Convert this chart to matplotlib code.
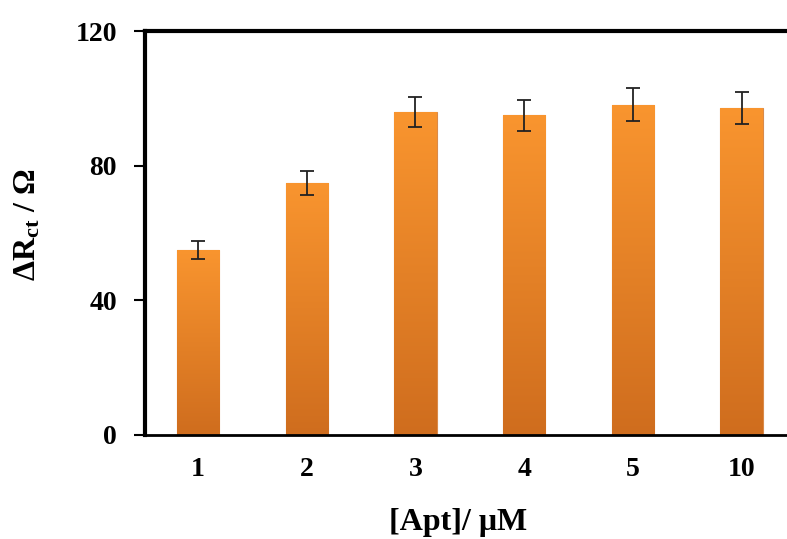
import matplotlib.pyplot as plt
import numpy as np
from matplotlib.colors import LinearSegmentedColormap

plt.rcParams['font.family'] = ['Liberation Serif', 'DejaVu Serif']
plt.rcParams['mathtext.fontset'] = 'custom'
plt.rcParams['mathtext.rm'] = 'Liberation Serif'
plt.rcParams['mathtext.bf'] = 'Liberation Serif:bold'
plt.rcParams['mathtext.it'] = 'Liberation Serif:italic'

# concentrations and measured response
labels = ['1', '2', '3', '4', '5', '10']
delta_rct = [55.1, 75.0, 96.0, 95.0, 98.2, 97.2]
errors = [2.7, 3.6, 4.5, 4.7, 4.8, 4.8]

fig = plt.figure(figsize=(7.87, 5.39), dpi=100)
ax = fig.add_axes([0.184, 0.193, 0.826, 0.749])

x = np.arange(len(labels))
bars = ax.bar(x, delta_rct, width=0.39, color='#EE8427', edgecolor='#D98A4A', linewidth=0.8, zorder=2)

# vertical gradient in each bar: lighter on top, darker at the bottom
grad = np.linspace(1, 0, 256).reshape(-1, 1)
cmap = LinearSegmentedColormap.from_list('org', ['#CF6D1E', '#F9952F'])
for b in bars:
    bx, by = b.get_x(), b.get_y()
    w, h = b.get_width(), b.get_height()
    im = ax.imshow(grad, cmap=cmap, aspect='auto', extent=[bx, bx + w, by, by + h],
                   zorder=2.5, interpolation='bicubic')
    im.set_clip_path(b)

ax.errorbar(x, delta_rct, yerr=errors, fmt='none', ecolor='#222222', elinewidth=1.3,
            capsize=5, capthick=1.3, zorder=3)

ax.set_xlim(-0.49, len(labels) - 0.51)
ax.set_ylim(0, 120)
ax.set_yticks([0, 40, 80, 120])
ax.set_xticks(x)
ax.set_xticklabels(labels)

for lbl in ax.get_xticklabels() + ax.get_yticklabels():
    lbl.set_fontweight('bold')
    lbl.set_fontsize(20)

ax.tick_params(axis='y', direction='out', length=8, width=1.5, pad=12)
ax.tick_params(axis='x', length=0, pad=16)

ax.spines['right'].set_visible(False)
ax.spines['left'].set_linewidth(3)
ax.spines['top'].set_linewidth(3)
ax.spines['bottom'].set_linewidth(2)

ax.set_ylabel(r'$\mathbf{\Delta R_{ct}}$ / $\mathbf{\Omega}$', fontsize=23, fontweight='bold')
ax.yaxis.set_label_coords(-0.158, 0.52)
ax.set_xlabel('[Apt]/ μM', fontsize=23, fontweight='bold')
ax.xaxis.set_label_coords(0.482, -0.18)

fig.savefig('out.png', dpi=100)
